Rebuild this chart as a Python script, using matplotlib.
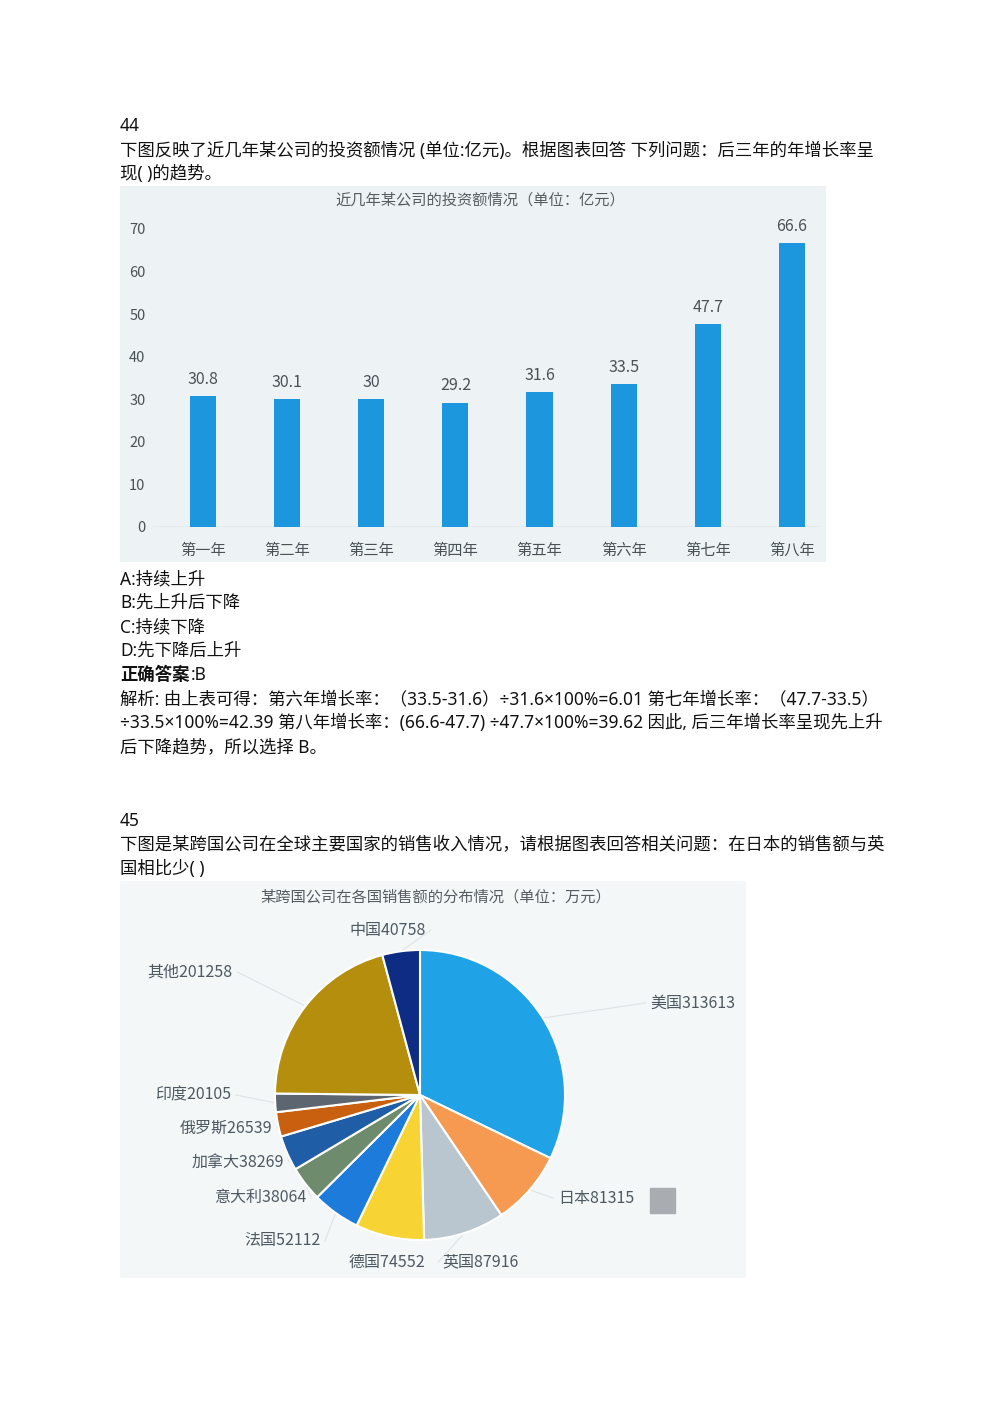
import matplotlib
matplotlib.use("Agg")
import matplotlib.pyplot as plt
import numpy as np
from matplotlib.patches import Rectangle

plt.rcParams['font.family'] = ['Noto Sans CJK SC', 'DejaVu Sans']

W, H = 1000, 1415

# ---- data: bar chart (question 44) ----
years = ["第一年", "第二年", "第三年", "第四年", "第五年", "第六年", "第七年", "第八年"]
invest = [30.8, 30.1, 30, 29.2, 31.6, 33.5, 47.7, 66.6]
invest_labels = ["30.8", "30.1", "30", "29.2", "31.6", "33.5", "47.7", "66.6"]
y_ticks = [0, 10, 20, 30, 40, 50, 60, 70]

# ---- data: pie chart (question 45) ----
countries = ["美国", "日本", "英国", "德国", "法国", "意大利", "加拿大", "俄罗斯", "印度", "其他", "中国"]
sales = [313613, 81315, 87916, 74552, 52112, 38064, 38269, 26539, 20105, 201258, 40758]
pie_colors = ["#1FA3E6", "#F59A50", "#B9C6CF", "#F7D433", "#1D7BDB", "#6F8B6E",
              "#1F5EA6", "#C9600F", "#5D6670", "#B48E0C", "#0F2C84"]

# label anchor positions (pixels) for the pie labels
label_pos = [(693, 1003), (596, 1198), (481, 1262), (387, 1262), (282, 1241), (260, 1197),
             (238, 1162), (226, 1128), (193, 1095), (190, 972), (388, 930)]

doc_font = 12.5
doc_family = ['Noto Sans', 'Noto Sans CJK SC', 'DejaVu Sans']
text_color = "#111111"


def fy(y):
    return 1 - y / H


def px_axes(fig, left, top, right, bottom, **kw):
    return fig.add_axes([left / W, 1 - bottom / H, (right - left) / W, (bottom - top) / H], **kw)


fig = plt.figure(figsize=(W / 100, H / 100), dpi=100)
fig.patch.set_facecolor("white")

# ---- question 44 text ----
q44 = [
    (126, "44"),
    (151, "下图反映了近几年某公司的投资额情况 (单位:亿元)。根据图表回答 下列问题：后三年的年增长率呈"),
    (174, "现( )的趋势。"),
    (579, "A:持续上升"),
    (603, "B:先上升后下降"),
    (627, "C:持续下降"),
    (651, "D:先下降后上升"),
    (699, "解析: 由上表可得：第六年增长率：（33.5-31.6）÷31.6×100%=6.01 第七年增长率：（47.7-33.5）"),
    (723, "÷33.5×100%=42.39 第八年增长率：(66.6-47.7) ÷47.7×100%=39.62 因此, 后三年增长率呈现先上升"),
    (747, "后下降趋势，所以选择 B。"),
]
for y, s in q44:
    fig.text(120 / W, fy(y), s, fontsize=doc_font, family=doc_family, color=text_color,
             va="center", ha="left")
fig.text(120 / W, fy(675), "正确答案", fontsize=doc_font, fontweight="bold", family=doc_family,
         color=text_color, va="center", ha="left")
fig.text(191 / W, fy(675), ":B", fontsize=doc_font, family=doc_family, color=text_color,
         va="center", ha="left")

# ---- bar chart picture ----
bg1 = px_axes(fig, 120, 186, 826, 562)
bg1.set_axis_off()
bg1.add_patch(Rectangle((0, 0), 1, 1, transform=bg1.transAxes, color="#EDF2F4", zorder=0))
bg1.text(0.51, 0.962, "近几年某公司的投资额情况（单位：亿元）", transform=bg1.transAxes,
         ha="center", va="center", fontsize=11, color="#555C62")

ax = px_axes(fig, 152.5, 229, 821.4, 527)
ax.set_facecolor("none")
x = list(range(len(years)))
ax.bar(x, invest, width=0.31, color="#1C97DD", zorder=2)
for xi, v, lbl in zip(x, invest, invest_labels):
    ax.annotate(lbl, (xi, v), xytext=(0, 6), textcoords="offset points",
                ha="center", va="bottom", fontsize=11.5, color="#4A5258")
ax.axhline(0, color="#C5D2D8", lw=1, zorder=1)
ax.set_xlim(-0.6, 7.35)
ax.set_ylim(0, 70)
ax.set_yticks(y_ticks)
ax.set_xticks(x)
ax.set_xticklabels(years)
ax.tick_params(axis="both", length=0, labelsize=10.5, colors="#4A5258")
ax.tick_params(axis="x", pad=11, labelsize=11)
ax.tick_params(axis="y", pad=5)
for sp in ax.spines.values():
    sp.set_visible(False)

# ---- question 45 text ----
q45 = [
    (821, "45"),
    (845, "下图是某跨国公司在全球主要国家的销售收入情况，请根据图表回答相关问题：在日本的销售额与英"),
    (869, "国相比少( )"),
]
for y, s in q45:
    fig.text(120 / W, fy(y), s, fontsize=doc_font, family=doc_family, color=text_color,
             va="center", ha="left")

# ---- pie chart picture ----
bg2 = px_axes(fig, 120, 881, 746, 1278)
bg2.set_axis_off()
bg2.add_patch(Rectangle((0, 0), 1, 1, transform=bg2.transAxes, color="#F3F7F8", zorder=0))
bg2.text(0.505, 0.96, "某跨国公司在各国销售额的分布情况（单位：万元）", transform=bg2.transAxes,
         ha="center", va="center", fontsize=11, color="#555C62")
# grey legend swatch
bg2.add_patch(Rectangle(((650 - 120) / 626, 1 - (1213 - 881) / 397), 25 / 626, 25 / 397,
                        transform=bg2.transAxes, color="#A9ADB2", zorder=1))

cx, cy, r = 420, 1095, 145
pax = px_axes(fig, cx - r, cy - r, cx + r, cy + r)
wedges, _ = pax.pie(sales, colors=pie_colors, startangle=90, counterclock=False,
                    wedgeprops=dict(edgecolor="white", linewidth=1.5))
pax.set_xlim(-1, 1)
pax.set_ylim(-1, 1)
pax.set_axis_off()

# labels with faint leader lines
for w, name, val, (lx, ly) in zip(wedges, countries, sales, label_pos):
    mid = np.deg2rad((w.theta1 + w.theta2) / 2)
    ex, ey = np.cos(mid), np.sin(mid)
    tx, ty = (lx - cx) / r, (cy - ly) / r
    half = (len(name) * 16 + len(str(val)) * 9) / 2 / r
    if tx > ex + 0.05:
        end_x = tx - half - 0.03
    elif tx < ex - 0.05:
        end_x = tx + half + 0.03
    else:
        end_x = None
    if end_x is not None:
        pax.plot([ex, end_x], [ey, ty], color="#DDE3E6", lw=0.8, clip_on=False, zorder=0)
    pax.text(tx, ty, f"{name}{val}", ha="center", va="center", fontsize=11.5,
             color="#4F5962", clip_on=False)

fig.savefig("out.png", dpi=100, facecolor="white")
